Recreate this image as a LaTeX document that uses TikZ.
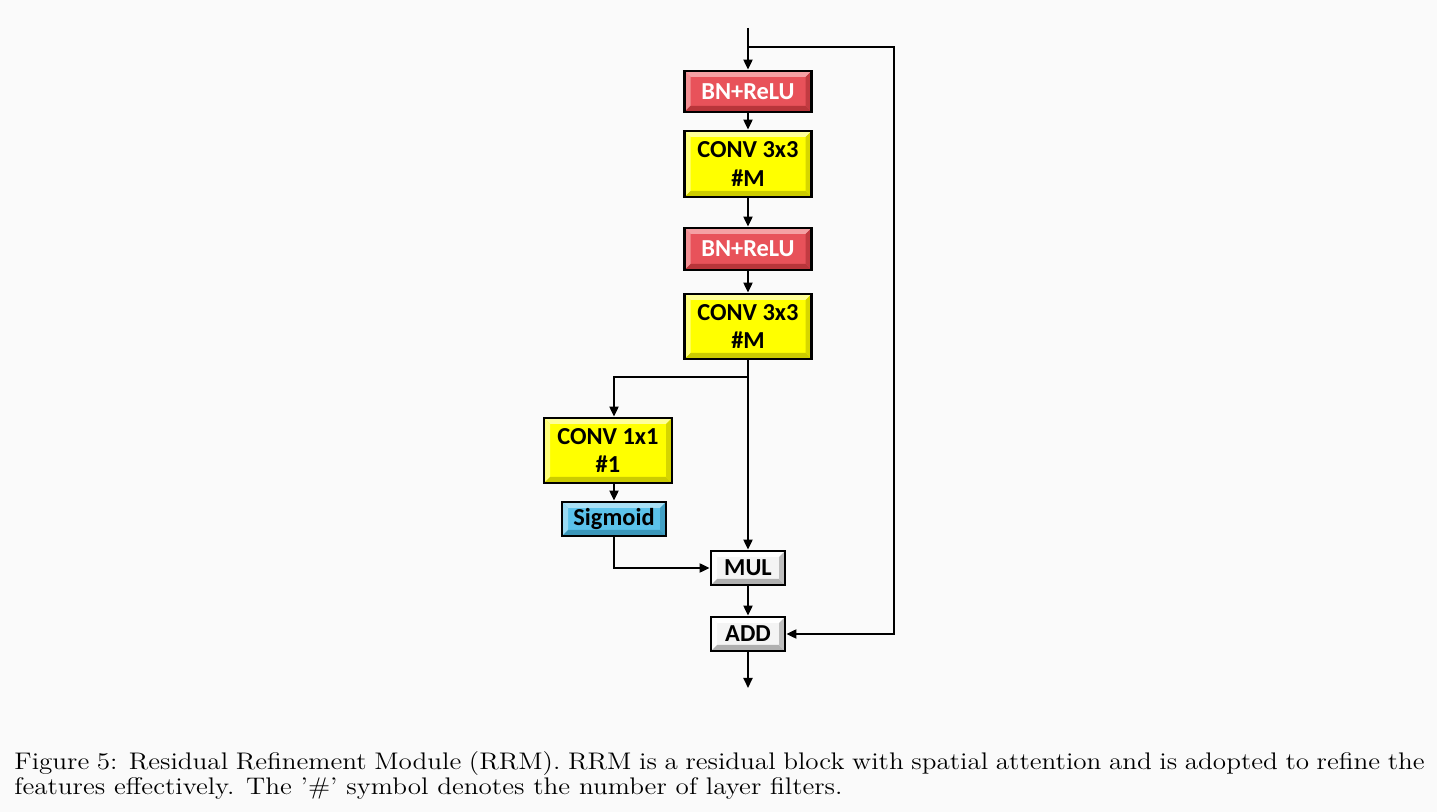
\documentclass[tikz,border=0pt]{standalone}
\usepackage{fontspec}
\newfontfamily\boxfont{Carlito}
\usetikzlibrary{arrows.meta}
\definecolor{bgc}{HTML}{FAFAFA}
\definecolor{redface}{HTML}{E8525A}
\definecolor{redlight}{HTML}{F5A0A3}
\definecolor{reddark}{HTML}{B8353A}
\definecolor{yelface}{HTML}{FFFF00}
\definecolor{yellight}{HTML}{FFFF99}
\definecolor{yeldark}{HTML}{CCCC00}
\definecolor{bluface}{HTML}{5BC2EA}
\definecolor{blulight}{HTML}{A9E0F5}
\definecolor{bludark}{HTML}{3B97BA}
\definecolor{gryface}{HTML}{F4F4F4}
\definecolor{grylight}{HTML}{FFFFFF}
\definecolor{grydark}{HTML}{B0B0B0}
\tikzset{
  bevelbox/.style n args={3}{draw=black, line width=1.4pt, fill=#1,
    inner sep=0pt, align=center, font=\boxfont\bfseries\fontsize{12.2}{14.2}\selectfont,
    path picture={
      \def\bw{3pt}
      \fill[#2] (path picture bounding box.north west) -- (path picture bounding box.north east)
        -- ([xshift=-\bw,yshift=-\bw]path picture bounding box.north east)
        -- ([xshift=\bw,yshift=-\bw]path picture bounding box.north west) -- cycle;
      \fill[#2!80!#1] (path picture bounding box.north west) -- (path picture bounding box.south west)
        -- ([xshift=\bw,yshift=\bw]path picture bounding box.south west)
        -- ([xshift=\bw,yshift=-\bw]path picture bounding box.north west) -- cycle;
      \fill[#3] (path picture bounding box.south west) -- (path picture bounding box.south east)
        -- ([xshift=-\bw,yshift=\bw]path picture bounding box.south east)
        -- ([xshift=\bw,yshift=\bw]path picture bounding box.south west) -- cycle;
      \fill[#3!80!#1] (path picture bounding box.north east) -- (path picture bounding box.south east)
        -- ([xshift=-\bw,yshift=\bw]path picture bounding box.south east)
        -- ([xshift=-\bw,yshift=-\bw]path picture bounding box.north east) -- cycle;
    }},
  redbox/.style={bevelbox={redface}{redlight}{reddark}, text=white},
  yelbox/.style={bevelbox={yelface}{yellight}{yeldark}, text=black},
  blubox/.style={bevelbox={bluface}{blulight}{bludark}, text=black},
  grybox/.style={bevelbox={gryface}{grylight}{grydark}, text=black},
  arr/.style={line width=1pt, -{Triangle[length=5pt,width=4.5pt]}},
}
\begin{document}
\begin{tikzpicture}[x=0.5pt,y=-0.5pt]
\fill[bgc] (0,0) rectangle (1437,812);
\useasboundingbox (0,0) rectangle (1437,812);

\node[redbox, minimum width=63.5pt, minimum height=20.5pt] (bn1) at (748,91.5) {BN+ReLU};
\node[yelbox, minimum width=63.5pt, minimum height=33pt] (conv1) at (748,164) {CONV 3x3\\\#M};
\node[redbox, minimum width=63.5pt, minimum height=21pt] (bn2) at (748,249) {BN+ReLU};
\node[yelbox, minimum width=63.5pt, minimum height=32.5pt] (conv2) at (748,326.5) {CONV 3x3\\\#M};
\node[yelbox, minimum width=64pt, minimum height=32.5pt] (conv3) at (608,450.5) {CONV 1x1\\\#1};
\node[blubox, minimum width=52pt, minimum height=17pt] (sig) at (614,519) {Sigmoid};
\node[grybox, minimum width=37pt, minimum height=17pt] (mul) at (748,568) {MUL};
\node[grybox, minimum width=37pt, minimum height=17pt] (add) at (748,634) {ADD};

\coordinate (in) at (748,28);
\coordinate (b1) at (748,47);
\coordinate (b2) at (748,377);
\coordinate (out) at (748,688);

\draw[arr] (in) -- (bn1.north);
\draw[arr] (b1) -- (894,47) |- (add.east);
\draw[arr] (bn1.south) -- (conv1.north);
\draw[arr] (conv1.south) -- (bn2.north);
\draw[arr] (bn2.south) -- (conv2.north);
\draw[arr] (conv2.south) -- (mul.north);
\draw[arr] (b2) -| ([xshift=3pt]conv3.north);
\draw[arr] ([xshift=3pt]conv3.south) -- (sig.north);
\draw[arr] (sig.south) |- (mul.west);
\draw[arr] (mul.south) -- (add.north);
\draw[arr] (add.south) -- (out);

\node[anchor=north west, inner sep=0pt, text width=624pt, align=justify,
      xscale=1.13, transform shape,
      font=\fontsize{12}{12.5}\selectfont] (cap) at (14,751)
 {Figure 5: Residual Refinement Module (RRM). RRM is a residual block with spatial attention and is adopted to refine the\linebreak features effectively. The '\#' symbol denotes the number of layer filters.};
\end{tikzpicture}
\end{document}
